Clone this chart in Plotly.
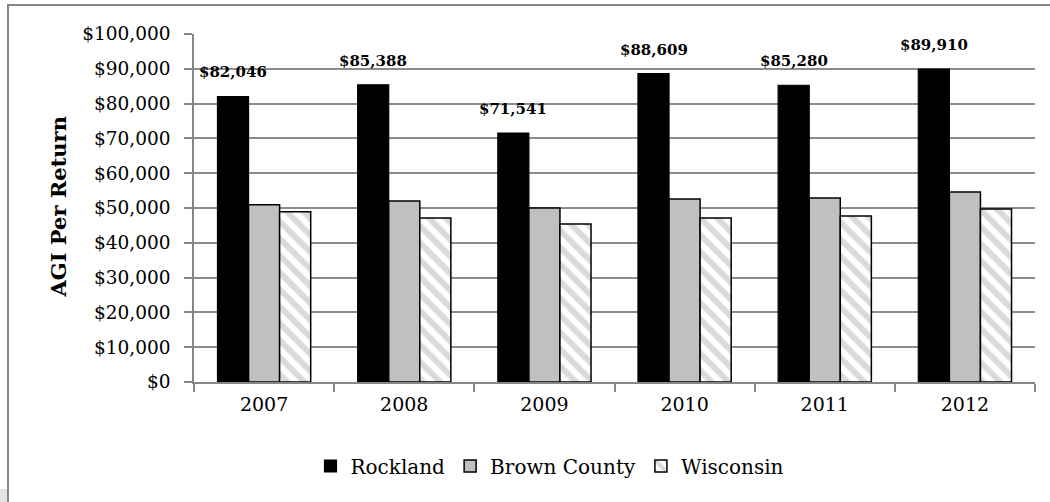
import plotly.graph_objects as go

years = ["2007", "2008", "2009", "2010", "2011", "2012"]
rockland = [82046, 85388, 71541, 88609, 85280, 89910]
brown_county = [50900, 52000, 50000, 52600, 52900, 54600]
wisconsin = [48900, 47100, 45400, 47100, 47700, 49700]
rockland_labels = ["$82,046", "$85,388", "$71,541", "$88,609", "$85,280", "$89,910"]

FONT = "DejaVu Serif"
W, H = 1050, 502
ML, MR, MT, MB = 194, 15, 34, 120
PW = W - ML - MR
PH = H - MT - MB

fig = go.Figure()
fig.add_trace(go.Bar(
    name="Rockland", x=years, y=rockland,
    marker=dict(color="black", line=dict(color="black", width=1.2)),
))
fig.add_trace(go.Bar(
    name="Brown County", x=years, y=brown_county,
    marker=dict(color="#c0c0c0", line=dict(color="black", width=1.5)),
))
fig.add_trace(go.Bar(
    name="Wisconsin", x=years, y=wisconsin,
    marker=dict(color="white", line=dict(color="black", width=1.5),
                pattern=dict(shape="\\", fgcolor="#b5b5b5", bgcolor="white",
                             size=12, solidity=0.5)),
))

bargap = 0.335
bar_px = PW / len(years) * (1 - bargap) / 3

annotations = []
for i, (v, lab) in enumerate(zip(rockland, rockland_labels)):
    annotations.append(dict(
        x=i, y=v, xref="x", yref="y", text=lab, showarrow=False,
        xshift=-bar_px, yshift=24,
        font=dict(family=FONT, size=15, color="black", weight="bold"),
    ))

annotations.append(dict(
    x=(58 - ML) / PW, y=(MT + PH - 207.5) / PH, xref="paper", yref="paper",
    text="<b>AGI Per Return</b>", textangle=-90, showarrow=False,
    xanchor="center", yanchor="middle",
    font=dict(family=FONT, size=21, color="black"),
))

shapes = [
    dict(type="rect", xref="paper", yref="paper",
         x0=(8 - ML) / PW, x1=(W + 20 - ML) / PW,
         y0=(MT + PH - (H + 20)) / PH, y1=1 + (MT - 5) / PH,
         line=dict(color="#868686", width=2), fillcolor="rgba(0,0,0,0)", layer="below"),
    dict(type="rect", xref="paper", yref="paper",
         x0=(0 - ML) / PW, x1=(7 - ML) / PW,
         y0=(MT + PH - H) / PH, y1=(MT + PH - 489) / PH,
         line=dict(width=0), fillcolor="#e3e3e3", layer="below"),
]

fig.update_layout(
    width=W, height=H, autosize=False,
    margin=dict(l=ML, r=MR, t=MT, b=MB, pad=0),
    paper_bgcolor="white", plot_bgcolor="white",
    barmode="group", bargap=bargap, bargroupgap=0,
    font=dict(family=FONT, color="black"),
    showlegend=True,
    legend=dict(orientation="h", x=(550 - ML) / PW, xanchor="center",
                y=(MT + PH - 466) / PH, yanchor="middle",
                font=dict(family=FONT, size=20, color="black"),
                itemwidth=30, traceorder="normal"),
    annotations=annotations,
    shapes=shapes,
)

fig.update_xaxes(
    type="category", range=[-0.5, len(years) - 0.5], autorange=False,
    showgrid=False, showline=True, linecolor="#868686", linewidth=1.5,
    ticks="outside", tickson="boundaries", ticklen=8, tickcolor="#868686", tickwidth=1.5,
    tickfont=dict(family=FONT, size=19, color="black"), tickangle=0,
    ticklabelstandoff=4,
)
fig.update_yaxes(
    range=[0, 100000], dtick=10000, tickprefix="$", tickformat=",",
    showgrid=True, gridcolor="#8c8c8c", gridwidth=1.5,
    showline=True, linecolor="#868686", linewidth=1.5,
    ticks="outside", ticklen=8, tickcolor="#868686", tickwidth=1.5,
    tickfont=dict(family=FONT, size=18.5, color="black"),
    ticklabelstandoff=10,
    zeroline=False,
)

fig.write_html("out.html")
